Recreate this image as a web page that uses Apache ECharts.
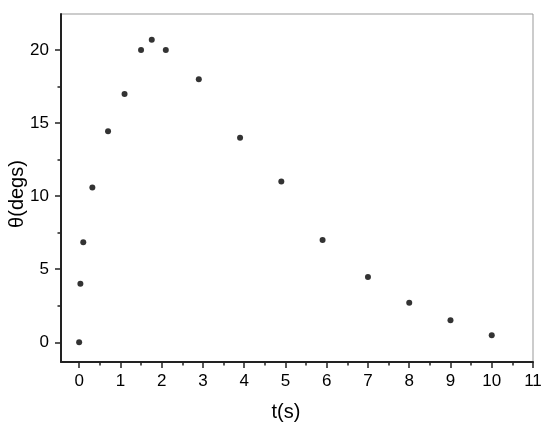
<!DOCTYPE html>
<html>
<head>
<meta charset="utf-8">
<script src="https://cdn.jsdelivr.net/npm/echarts@6/dist/echarts.min.js"></script>
<style>
  html, body { margin: 0; padding: 0; background: #fff; }
  #chart { width: 550px; height: 430px; }
</style>
</head>
<body>
<div id="chart"></div>
<script>
// data
const tValues = [0, 0.03, 0.1, 0.32, 0.7, 1.1, 1.5, 1.76, 2.1, 2.9, 3.9, 4.9, 5.9, 7, 8, 9, 10]
const thetaValues = [0, 4.0, 6.85, 10.6, 14.45, 17.0, 20.0, 20.7, 20.0, 18.0, 14.0, 11.0, 7.0, 4.47, 2.7, 1.5, 0.48]
const xTicks = [0, 1, 2, 3, 4, 5, 6, 7, 8, 9, 10, 11]
const xMinorTicks = [0.5, 1.5, 2.5, 3.5, 4.5, 5.5, 6.5, 7.5, 8.5, 9.5, 10.5]
const yTicks = [0, 5, 10, 15, 20]
const yMinorTicks = [2.5, 7.5, 12.5, 17.5]

const font = 'Liberation Sans, Arial, sans-serif'
const xMin = -0.44
const xMax = 11
const yMin = -1.35
const yMax = 22.47

const chart = echarts.init(document.getElementById('chart'), null, { renderer: 'canvas' })

const labelStyle = { color: '#000', fontFamily: font, fontSize: 17 }
const tickLine = { color: '#222', width: 1.5 }

chart.setOption({
  animation: false,
  grid: {
    left: 61, right: 17, top: 14, bottom: 68,
    outerBoundsMode: 'none',
    containLabel: false,
    show: true, borderColor: '#999', borderWidth: 1,
  },
  xAxis: [
    {
      type: 'value', min: xMin, max: xMax, position: 'bottom',
      name: 't(s)', nameLocation: 'middle', nameGap: 40, nameMoveOverlap: false,
      // the title sits a bit left of the plot centre in the original
      nameTextStyle: { color: '#000', fontFamily: font, fontSize: 20, padding: [0, 22, 0, 0] },
      axisLine: { show: true, onZero: false, lineStyle: { color: '#222', width: 2 } },
      axisTick: { show: true, inside: false, length: 6, lineStyle: tickLine, customValues: xTicks },
      axisLabel: { ...labelStyle, margin: 11, customValues: xTicks },
      splitLine: { show: false },
    },
    {
      type: 'value', min: xMin, max: xMax, position: 'bottom',
      axisLine: { show: false, onZero: false },
      axisTick: { show: true, inside: false, length: 3.5, lineStyle: tickLine, customValues: xMinorTicks },
      axisLabel: { show: false },
      splitLine: { show: false },
    },
  ],
  yAxis: [
    {
      type: 'value', min: yMin, max: yMax, position: 'left',
      name: 'θ(degs)', nameLocation: 'middle', nameGap: 34, nameMoveOverlap: false,
      // and this one a little below the centre
      nameTextStyle: { color: '#000', fontFamily: font, fontSize: 20, padding: [0, 12, 0, 0] },
      axisLine: { show: true, onZero: false, lineStyle: { color: '#222', width: 2 } },
      axisTick: { show: true, inside: false, length: 6, lineStyle: tickLine, customValues: yTicks },
      axisLabel: { ...labelStyle, margin: 12, customValues: yTicks },
      splitLine: { show: false },
    },
    {
      type: 'value', min: yMin, max: yMax, position: 'left',
      axisLine: { show: false, onZero: false },
      axisTick: { show: true, inside: false, length: 3.5, lineStyle: tickLine, customValues: yMinorTicks },
      axisLabel: { show: false },
      splitLine: { show: false },
    },
  ],
  series: [
    {
      type: 'scatter',
      symbol: 'circle',
      symbolSize: 6,
      itemStyle: { color: '#000' },
      data: tValues.map((t, i) => [t, thetaValues[i]]),
    },
  ],
})
</script>
</body>
</html>
